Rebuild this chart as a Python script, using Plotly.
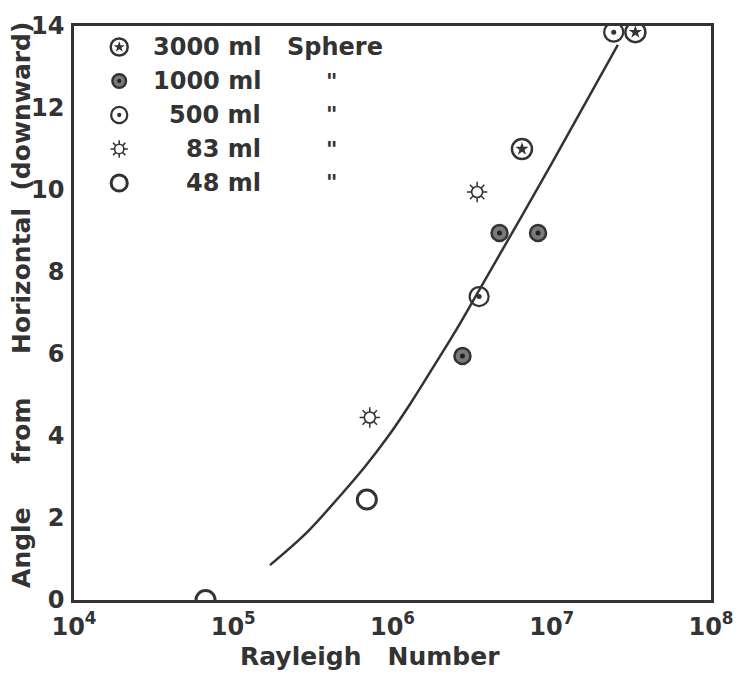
import plotly.graph_objects as go

# ---- data ----
series_names = ["3000 ml", "1000 ml", "500 ml", "83 ml", "48 ml"]
series_note = ["Sphere", "\"", "\"", "\"", "\""]

ra_3000 = [6.5e6, 3.35e7]
ang_3000 = [11.0, 13.85]
ra_1000 = [2.75e6, 4.7e6, 8.2e6]
ang_1000 = [5.95, 8.95, 8.95]
ra_500 = [3.5e6, 2.45e7]
ang_500 = [7.4, 13.85]
ra_83 = [7.2e5, 3.4e6]
ang_83 = [4.45, 9.95]
ra_48 = [6.7e4, 6.9e5]
ang_48 = [0.0, 2.45]

curve_ra = [1.70e5, 2.87e5, 4.59e5, 6.71e5, 9.35e5, 1.30e6, 1.81e6, 2.41e6, 3.21e6, 1.0e7, 2.6e7]
curve_ang = [0.85, 1.63, 2.50, 3.25, 3.98, 4.80, 5.69, 6.47, 7.30, 10.65, 13.54]

x_tickvals = [1e4, 1e5, 1e6, 1e7, 1e8]
x_ticktext = ["10<sup>4</sup>", "10<sup>5</sup>", "10<sup>6</sup>", "10<sup>7</sup>", "10<sup>8</sup>"]
y_tickvals = [0, 2, 4, 6, 8, 10, 12, 14]

INK = "#333333"
FONT = "DejaVu Sans"

# symbol layers per series (drawn on top of each other)
styles = [
    [dict(symbol="circle-open", size=20, line=dict(width=2.5, color=INK), color=INK),
     dict(symbol="star", size=10, color=INK, line=dict(width=0))],
    [dict(symbol="circle", size=16, color="#7a7a7a", line=dict(width=2.5, color=INK)),
     dict(symbol="circle", size=5, color="#222222", line=dict(width=0))],
    [dict(symbol="circle-open", size=19, color=INK, line=dict(width=2.2, color=INK)),
     dict(symbol="circle", size=5, color=INK, line=dict(width=0))],
    [dict(symbol="asterisk-open", size=17, color=INK, line=dict(width=1.5, color=INK)),
     dict(symbol="circle", size=11, color="white", line=dict(width=1.6, color=INK))],
    [dict(symbol="circle-open", size=19, color=INK, line=dict(width=3, color=INK))],
]
data_x = [ra_3000, ra_1000, ra_500, ra_83, ra_48]
data_y = [ang_3000, ang_1000, ang_500, ang_83, ang_48]

fig = go.Figure()

# fitted curve
fig.add_trace(go.Scatter(x=curve_ra, y=curve_ang, mode="lines",
                         line=dict(color=INK, width=2.5, shape="spline", smoothing=1.0),
                         showlegend=False, hoverinfo="skip"))

for name, xs, ys, layers in zip(series_names, data_x, data_y, styles):
    for lay in layers:
        fig.add_trace(go.Scatter(x=xs, y=ys, mode="markers", name=name,
                                 marker=dict(**lay), showlegend=False))

# legend drawn on an overlay axis (0..1 = plot area)
L, R, T, B = 74, 722, 26, 600
def px(xp):
    return (xp - L) / (R - L)
def py(yp):
    return (B - yp) / (B - T)

row0, row_step = 47, 34
for i, (name, note, layers) in enumerate(zip(series_names, series_note, styles)):
    yy = py(row0 + i * row_step)
    for lay in layers:
        lay2 = dict(lay)
        lay2["size"] = lay["size"] * 0.85
        fig.add_trace(go.Scatter(x=[px(120)], y=[yy], mode="markers", marker=lay2,
                                 xaxis="x2", yaxis="y2", showlegend=False,
                                 hoverinfo="skip"))
    fig.add_annotation(x=px(266), y=yy, xref="paper", yref="paper", text=name,
                       showarrow=False, xanchor="right", yanchor="middle",
                       font=dict(family=FONT, size=24, color=INK, weight="bold"))
    if note == "Sphere":
        fig.add_annotation(x=px(289), y=yy, xref="paper", yref="paper", text=note,
                           showarrow=False, xanchor="left", yanchor="middle",
                           font=dict(family=FONT, size=24, color=INK, weight="bold"))
    else:
        fig.add_annotation(x=px(336), y=yy, xref="paper", yref="paper", text=note,
                           showarrow=False, xanchor="center", yanchor="middle",
                           font=dict(family=FONT, size=22, color=INK, weight="bold"))

fig.add_annotation(x=px(375), y=py(656), xref="paper", yref="paper",
                   text="Rayleigh   Number", showarrow=False,
                   xanchor="center", yanchor="middle",
                   font=dict(family=FONT, size=25, color=INK, weight="bold"))
fig.add_annotation(x=px(20), y=py(305), xref="paper", yref="paper",
                   text="Angle     from     Horizontal  (downward)", showarrow=False,
                   textangle=-90, xanchor="center", yanchor="middle",
                   font=dict(family=FONT, size=25, color=INK, weight="bold"))

axis_common = dict(showline=True, linewidth=2.5, linecolor=INK, mirror=True,
                   showgrid=False, zeroline=False, ticks="",
                   tickfont=dict(family=FONT, size=24, color=INK, weight="bold"))

fig.update_layout(
    width=746, height=675,
    margin=dict(l=L, r=746 - R, t=T, b=675 - B),
    paper_bgcolor="white", plot_bgcolor="white",
    showlegend=False,
    xaxis=dict(type="log", range=[4, 8], tickvals=x_tickvals, ticktext=x_ticktext,
               ticklabelstandoff=3, **axis_common),
    yaxis=dict(range=[0, 14], tickvals=y_tickvals, ticklabelstandoff=2, **axis_common),
    xaxis2=dict(overlaying="x", range=[0, 1], visible=False),
    yaxis2=dict(overlaying="y", range=[0, 1], visible=False),
)

fig.write_html("out.html")
